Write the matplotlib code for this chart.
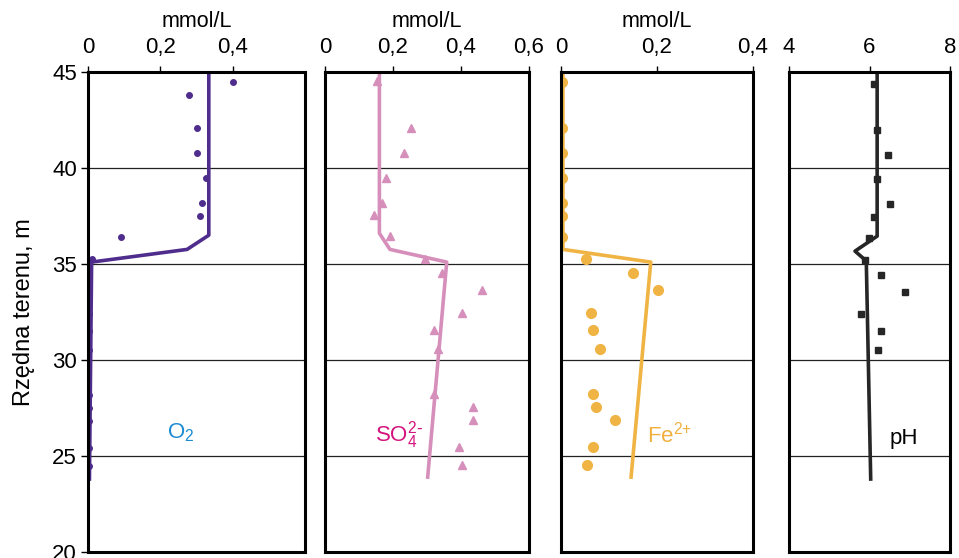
import numpy as np
import matplotlib
matplotlib.use("Agg")
import matplotlib.pyplot as plt

plt.rcParams['font.family'] = ['Liberation Sans', 'DejaVu Sans']

# O2 profile (mmol/L)
o2_depth = [44.5, 43.8, 42.1, 40.8, 39.5, 38.2, 37.5, 36.4, 35.25, 34.5, 33.6,
            32.4, 31.5, 30.5, 28.2, 27.5, 26.8, 25.4, 24.5]
o2_val = [0.40, 0.28, 0.30, 0.30, 0.325, 0.315, 0.31, 0.09, 0.012, 0.002, 0.002,
          0.002, 0.002, 0.002, 0.002, 0.002, 0.002, 0.002, 0.002]
o2_line_depth = [45, 36.5, 35.76, 35.1, 23.8]
o2_line_val = [0.334, 0.334, 0.274, 0.01, 0.004]

# SO4 2- profile (mmol/L)
so4_depth = [44.55, 42.1, 40.8, 39.5, 38.2, 37.55, 36.45, 35.25, 34.55, 33.65,
             32.45, 31.55, 30.55, 28.25, 27.55, 26.85, 25.45, 24.55]
so4_val = [0.154, 0.253, 0.233, 0.179, 0.168, 0.144, 0.192, 0.294, 0.343, 0.463,
           0.404, 0.321, 0.332, 0.321, 0.434, 0.434, 0.393, 0.404]
so4_line_depth = [45, 36.6, 35.76, 35.1, 23.9]
so4_line_val = [0.16, 0.16, 0.191, 0.358, 0.302]

# Fe 2+ profile (mmol/L)
fe_depth = [44.5, 42.1, 40.8, 39.5, 38.2, 37.5, 36.4, 35.25, 34.55, 33.65,
            32.45, 31.55, 30.55, 28.25, 27.55, 26.85, 25.45, 24.55]
fe_val = [0.002, 0.002, 0.002, 0.002, 0.002, 0.002, 0.002, 0.052, 0.151, 0.203,
          0.062, 0.067, 0.081, 0.067, 0.072, 0.112, 0.067, 0.055]
fe_line_depth = [45, 35.76, 35.1, 23.9]
fe_line_val = [0.004, 0.004, 0.187, 0.146]

# pH profile
ph_depth = [44.4, 42.0, 40.7, 39.45, 38.1, 37.45, 36.35, 35.2, 34.45, 33.55,
            32.4, 31.5, 30.5]
ph_val = [6.10, 6.19, 6.45, 6.19, 6.50, 6.10, 5.99, 5.90, 6.29, 6.88,
          5.79, 6.29, 6.20]
ph_line_depth = [45, 36.45, 35.67, 35.16, 23.8]
ph_line_val = [6.19, 6.19, 5.64, 5.92, 6.03]

W, H = 959, 558
fig = plt.figure(figsize=(W / 100, H / 100), dpi=100)

def make_ax(left, right, top=72, bottom=552):
    return fig.add_axes([left / W, 1 - bottom / H, (right - left) / W, (bottom - top) / H])

panels = [
    # left, right px, xlim, xticks, ticklabels, unit
    (88, 305, (0, 0.6), [0, 0.2, 0.4], ['0', '0,2', '0,4'], 'mmol/L'),
    (325, 529, (0, 0.6), [0, 0.2, 0.4, 0.6], ['0', '0,2', '0,4', '0,6'], 'mmol/L'),
    (561, 753, (0, 0.4), [0, 0.2, 0.4], ['0', '0,2', '0,4'], 'mmol/L'),
    (789, 950, (4, 8), [4, 6, 8], ['4', '6', '8'], None),
]

axes = []
for i, (l, r, xl, xt, xtl, unit) in enumerate(panels):
    ax = make_ax(l, r)
    ax.set_xlim(*xl)
    ax.set_ylim(20, 45)
    ax.xaxis.tick_top()
    ax.set_xticks(xt)
    ax.set_xticklabels(xtl)
    ax.tick_params(axis='x', direction='out', length=4, width=1, pad=6, labelsize=16)
    if unit:
        ax.xaxis.set_label_position('top')
        ax.set_xlabel(unit, fontsize=15.5, labelpad=7)
    if i == 0:
        ax.set_yticks([20, 25, 30, 35, 40, 45])
        ax.tick_params(axis='y', direction='out', length=5, width=1, pad=3, labelsize=16)
        ax.set_ylabel('Rzędna terenu, m', fontsize=17, labelpad=12)
    else:
        ax.set_yticks([])
    for yy in [25, 30, 35, 40]:
        ax.axhline(yy, color='#222222', lw=0.9, zorder=1)
    for s in ax.spines.values():
        s.set_linewidth(2.2)
        s.set_color('black')
        s.set_zorder(5)
    axes.append(ax)

ax1, ax2, ax3, ax4 = axes

c_o2 = '#4f2d8c'
ax1.plot(o2_line_val, o2_line_depth, color=c_o2, lw=2.6, zorder=3)
ax1.plot(o2_val, o2_depth, 'o', color=c_o2, ms=4, zorder=4)
ax1.text(0.255, 26.2, r'$\mathregular{O_2}$', color='#1b8ad3', fontsize=16,
         ha='center', va='center')

c_so4 = '#d68fbb'
ax2.plot(so4_line_val, so4_line_depth, color=c_so4, lw=2.6, zorder=3)
ax2.plot(so4_val, so4_depth, '^', color=c_so4, ms=5.5, zorder=4)
ax2.text(0.148, 26.1, r'$\mathregular{SO_4^{2\text{-}}}$', color='#d4137f', fontsize=16,
         ha='left', va='center')

c_fe = '#f0b444'
ax3.plot(fe_line_val, fe_line_depth, color=c_fe, lw=2.6, zorder=3)
ax3.plot(fe_val, fe_depth, 'o', color=c_fe, ms=7, zorder=4)
ax3.text(0.18, 26.1, r'$\mathregular{Fe^{2{+}}}$', color='#f0b040', fontsize=16,
         ha='left', va='center')

c_ph = '#262626'
ax4.plot(ph_line_val, ph_line_depth, color=c_ph, lw=2.6, zorder=3)
ax4.plot(ph_val, ph_depth, 's', color=c_ph, ms=4.5, zorder=4)
ax4.text(6.5, 25.9, 'pH', color='black', fontsize=16, ha='left', va='center')

fig.savefig('out.png', dpi=100)
